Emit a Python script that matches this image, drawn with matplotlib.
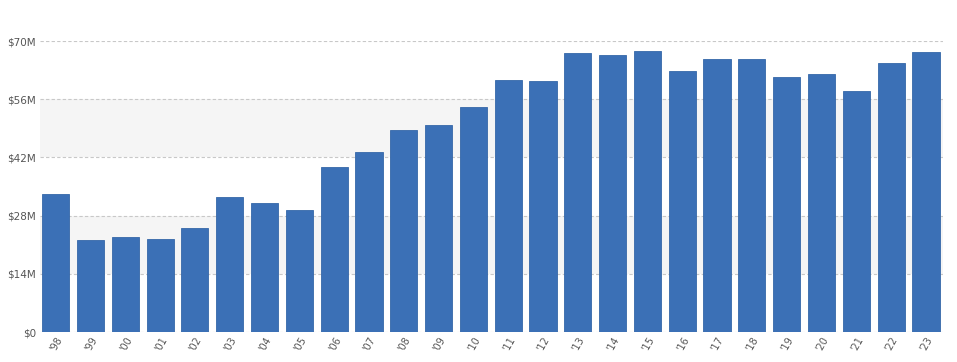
import matplotlib
matplotlib.use("Agg")
import matplotlib.pyplot as plt
from matplotlib.ticker import FuncFormatter
from matplotlib.transforms import ScaledTranslation

# yearly values in $M
years = ["'98", "'99", "'00", "'01", "'02", "'03", "'04", "'05", "'06", "'07",
         "'08", "'09", "'10", "'11", "'12", "'13", "'14", "'15", "'16", "'17",
         "'18", "'19", "'20", "'21", "'22", "'23"]
values = [33.1, 22.1, 22.9, 22.4, 25.1, 32.5, 31.0, 29.4, 39.6, 43.4,
          48.6, 49.9, 54.1, 60.5, 60.3, 67.1, 66.6, 67.5, 62.8, 65.6,
          65.7, 61.4, 62.0, 58.0, 64.7, 67.4]
yticks = [0, 14, 28, 42, 56, 70]

fig = plt.figure(figsize=(9.57, 3.62), dpi=100)
ax = fig.add_axes([40 / 957, 30 / 362, 903 / 957, 291 / 362])

# alternating background bands
for lo in (14, 42):
    ax.axhspan(lo, lo + 14, color="#f5f5f5", zorder=0, lw=0)

for y in yticks:
    ax.axhline(y, color="#c8c8c8", lw=0.8, ls=(0, (3, 2)), zorder=1)

x = list(range(len(years)))
ax.bar(x, values, width=0.78, color="#3b70b6", edgecolor="#3567a8", lw=0.6, zorder=2)

ax.set_xlim(-0.45, len(years) - 0.51)
ax.set_ylim(0, 70)
ax.set_yticks(yticks)
ax.yaxis.set_major_formatter(FuncFormatter(lambda v, p: "$0" if v == 0 else "${:d}M".format(int(v))))
ax.set_xticks(x)
ax.set_xticklabels(years, rotation=60, ha="right", va="top", rotation_mode="anchor")
# nudge labels a little to the right so they end just past the bar centre
shift = ScaledTranslation(4 / 100, 0, fig.dpi_scale_trans)
for lab in ax.get_xticklabels():
    lab.set_transform(lab.get_transform() + shift)

ax.tick_params(axis="both", length=0, colors="#555555")
ax.tick_params(axis="x", pad=2, labelsize=7)
ax.tick_params(axis="y", pad=3, labelsize=7.5)
for s in ax.spines.values():
    s.set_visible(False)

fig.savefig("out.png", dpi=100)
